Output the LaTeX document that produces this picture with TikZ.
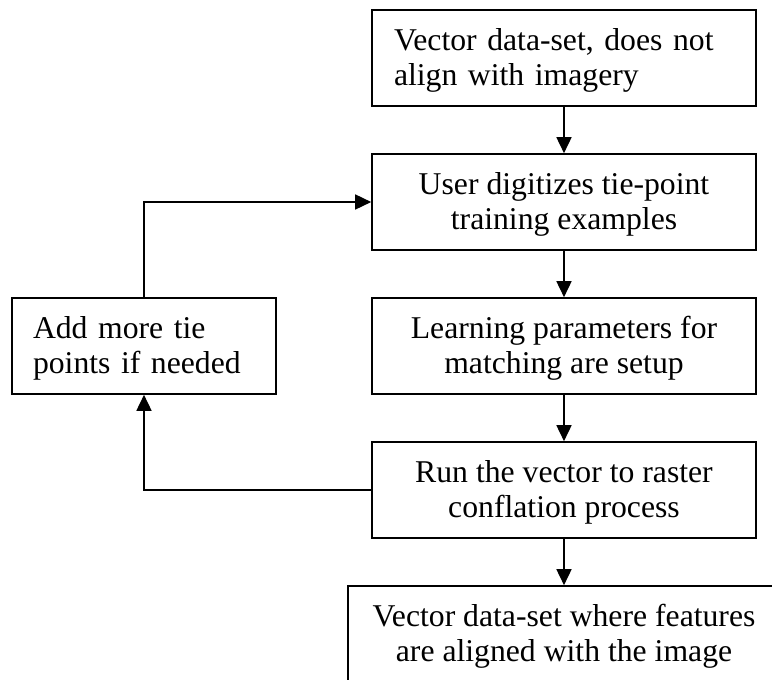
\documentclass[tikz,border=0pt]{standalone}
\usepackage{fontspec}
\setmainfont{Liberation Serif}
\usetikzlibrary{arrows.meta}
\newcommand\mytop{\rule{0pt}{27.6pt}}
\newcommand\mybot{\rule[-7pt]{0pt}{7pt}}
\begin{document}
\begin{tikzpicture}[x=1pt,y=-1pt,
  box/.style={draw, line width=1.6pt, minimum height=96pt, inner ysep=0pt,
    font=\fontsize{31.7}{35.3}\selectfont},
  cbox/.style={box, minimum width=384pt, inner xsep=0pt, align=center},
  lbox/.style={box, align=left},
  flow/.style={line width=1.6pt, -{Triangle[length=16pt,width=15pt]}}]
\clip (0,0) rectangle (772,680);
\node[lbox, text width=340pt, inner xsep=22pt] (b1) at (564,58)
  {\mytop Vector data-set, does not\\align with imagery\mybot};
\node[cbox] (b2) at (564,202)
  {\mytop User digitizes tie-point\\training examples\mybot};
\node[cbox] (b3) at (564,346)
  {\mytop Learning parameters for\\matching are setup\mybot};
\node[cbox] (b4) at (564,490)
  {\mytop Run the vector to raster\\conflation process\mybot};
\node[cbox, minimum width=432pt] (b5) at (564,634)
  {\mytop Vector data-set where features\\are aligned with the image\mybot};
\node[lbox, text width=222pt, inner xsep=21pt] (lb) at (144,346)
  {\mytop Add more tie\\points if needed\mybot};
\draw[flow] (b1) -- (b2);
\draw[flow] (b2) -- (b3);
\draw[flow] (b3) -- (b4);
\draw[flow] (b4) -- (b5);
\draw[flow] (b4.west) -| (lb.south);
\draw[flow] (lb.north) |- (b2.west);
\end{tikzpicture}
\end{document}
